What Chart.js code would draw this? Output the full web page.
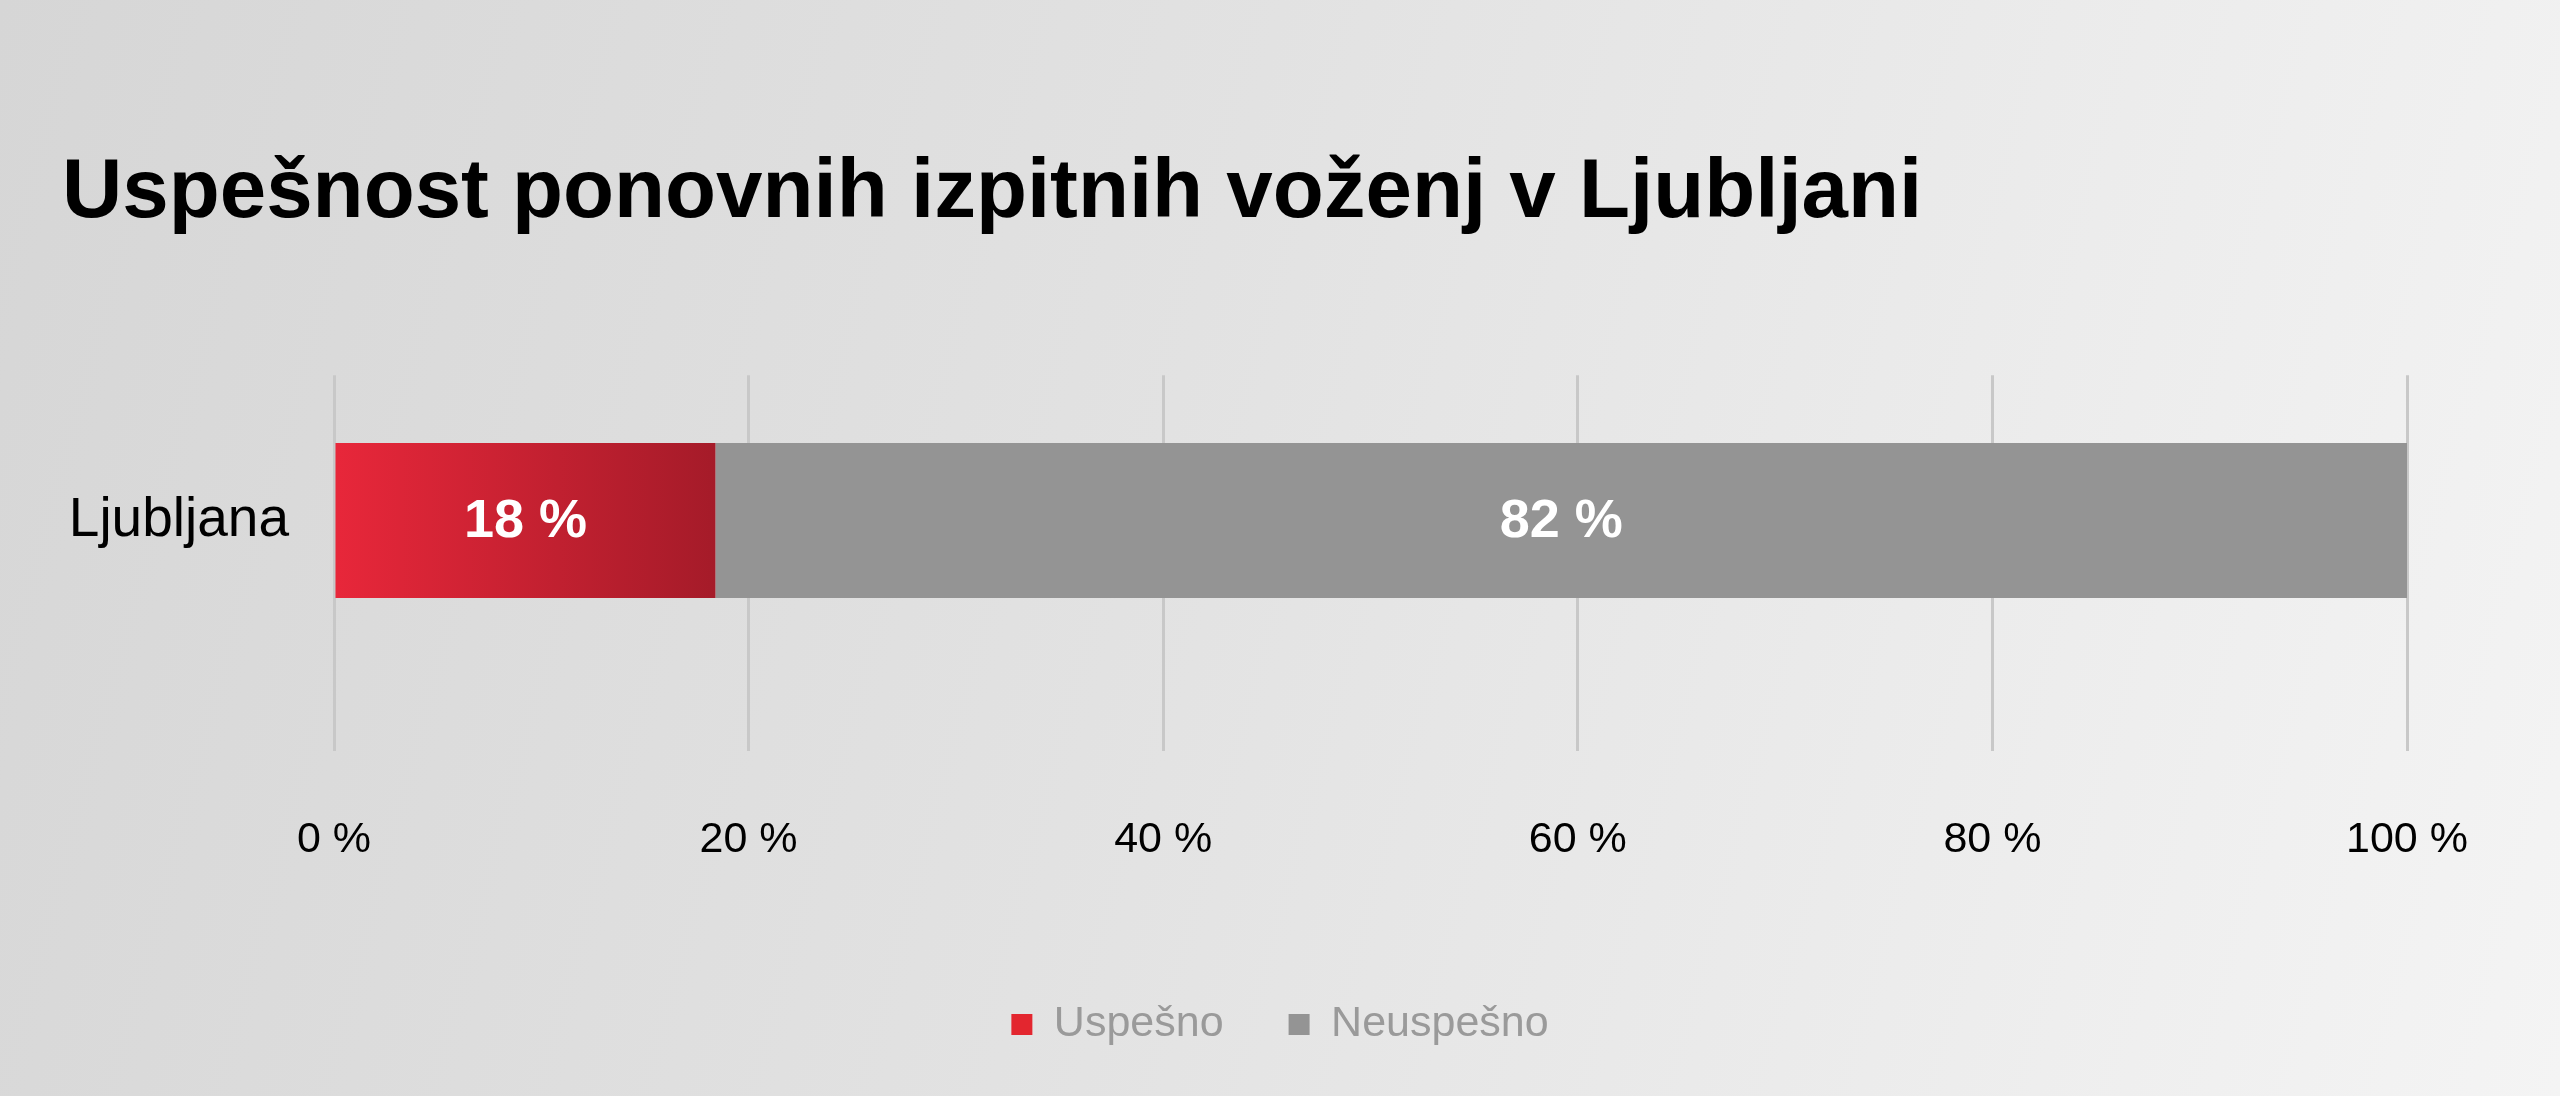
<!DOCTYPE html>
<html>
<head>
<meta charset="utf-8">
<script src="https://cdn.jsdelivr.net/npm/chart.js@4.4.1/dist/chart.umd.min.js"></script>
<style>
  html, body { margin: 0; padding: 0; }
  body {
    width: 2560px;
    height: 1096px;
    overflow: hidden;
    background: linear-gradient(105deg, #d6d6d6 0%, #e2e2e2 45%, #f4f4f4 100%);
  }
  #wrap { position: relative; width: 2560px; height: 1096px; }
</style>
</head>
<body>
<div id="wrap"><canvas id="chart"></canvas></div>
<script>
const titleText = 'Uspešnost ponovnih izpitnih voženj v Ljubljani';
const categories = ['Ljubljana'];
const seriesNames = ['Uspešno', 'Neuspešno'];
const uspesno = [18.4];
const neuspesno = [81.6];
const tickStep = 20;

const FONT = '"Liberation Sans", Arial, Helvetica, sans-serif';
const legendColors = ['#e3262f', '#949494'];
Chart.defaults.font.family = FONT;

function redFill(context) {
  const chart = context.chart;
  const x = chart.scales.x;
  if (context.type !== 'data' || !chart.chartArea || !x) return legendColors[0];
  const x0 = x.getPixelForValue(0);
  const x1 = x.getPixelForValue(context.raw || 0);
  const g = chart.ctx.createLinearGradient(x0, 0, x1, 0);
  g.addColorStop(0, '#e8273a');
  g.addColorStop(1, '#a51b29');
  return g;
}

const barLabels = {
  id: 'barLabels',
  afterDatasetsDraw(chart) {
    const ctx = chart.ctx;
    ctx.save();
    ctx.font = 'bold 54px ' + FONT;
    ctx.fillStyle = '#ffffff';
    ctx.textAlign = 'center';
    ctx.textBaseline = 'middle';
    chart.data.datasets.forEach((ds, di) => {
      chart.getDatasetMeta(di).data.forEach((bar, i) => {
        const c = bar.getCenterPoint();
        ctx.fillText(Math.round(ds.data[i]) + ' %', c.x, c.y + 2);
      });
    });
    ctx.restore();
  }
};

new Chart(document.getElementById('chart'), {
  type: 'bar',
  data: {
    labels: categories,
    datasets: [
      {
        label: seriesNames[0],
        data: uspesno,
        backgroundColor: redFill,
        borderWidth: 0,
        barPercentage: 1,
        categoryPercentage: 0.533
      },
      {
        label: seriesNames[1],
        data: neuspesno,
        backgroundColor: '#949494',
        borderWidth: 0,
        barPercentage: 1,
        categoryPercentage: 0.533
      }
    ]
  },
  options: {
    indexAxis: 'y',
    responsive: true,
    maintainAspectRatio: false,
    animation: false,
    devicePixelRatio: 1,
    layout: { padding: { left: 62, right: 62, top: 0, bottom: 40 } },
    plugins: {
      title: {
        display: true,
        text: titleText,
        align: 'start',
        color: '#000000',
        font: { size: 83.5, weight: 'bold' },
        padding: { top: 144, bottom: 131 }
      },
      legend: {
        position: 'bottom',
        labels: {
          color: '#9a9a9a',
          font: { size: 43 },
          boxWidth: 21,
          boxHeight: 21,
          padding: 65,
          generateLabels: (chart) => chart.data.datasets.map((ds, i) => ({
            text: ds.label,
            fillStyle: legendColors[i],
            strokeStyle: legendColors[i],
            lineWidth: 0,
            fontColor: '#9a9a9a',
            hidden: false,
            datasetIndex: i
          }))
        }
      },
      tooltip: { enabled: false }
    },
    scales: {
      x: {
        stacked: true,
        min: 0,
        max: 100,
        position: 'bottom',
        border: { display: false },
        grid: {
          color: '#c8c8c8',
          lineWidth: 3,
          drawTicks: true,
          tickLength: 85,
          tickColor: '#c8c8c8'
        },
        ticks: {
          stepSize: tickStep,
          color: '#000000',
          font: { size: 43 },
          padding: 63,
          callback: (v) => v + ' %'
        },
        afterFit: (scale) => { scale.height = 272; }
      },
      y: {
        stacked: true,
        border: { display: false },
        grid: { display: false, drawTicks: false },
        ticks: {
          color: '#000000',
          font: { size: 55 },
          padding: 45
        },
        afterFit: (scale) => { scale.width = 272; }
      },
      // empty right-hand axis, only keeps space so the legend sits centred on the page
      yRight: {
        type: 'category',
        position: 'right',
        labels: categories,
        border: { display: false },
        grid: { display: false, drawTicks: false },
        ticks: { display: false },
        afterFit: (scale) => { scale.width = 91; }
      }
    }
  },
  plugins: [barLabels]
});
</script>
</body>
</html>
